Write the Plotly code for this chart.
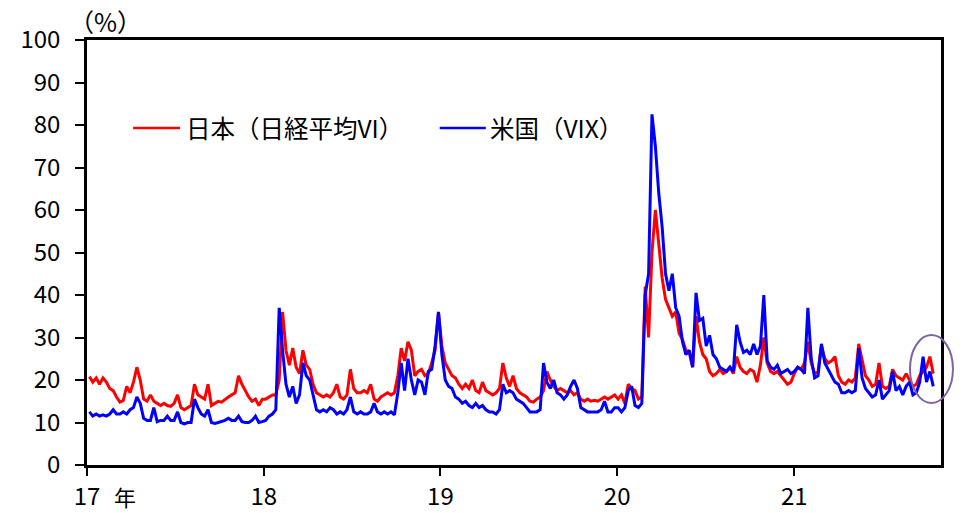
import pandas as pd
import plotly.graph_objects as go

# ---- data (weekly readings, %), first week ending 2017-01-06 ----
start_week = "2017-01-06"

nikkei_2017 = [20.8, 19.5, 20.5, 19.0, 20.5, 19.5, 18.0, 17.5, 16.0, 14.8,
               15.2, 18.5, 17.0, 19.5, 23.0, 20.0, 15.5, 15.0, 16.5, 15.0,
               14.5, 14.0, 14.5, 14.0, 13.8, 14.5, 16.5, 13.5, 13.0, 13.5,
               14.0, 19.0, 16.5, 16.0, 15.5, 19.0, 14.0, 14.5, 15.0, 14.8,
               15.5, 16.0, 16.5, 17.0, 21.0, 19.0, 17.5, 16.0, 15.0, 15.5,
               14.0, 15.5]
nikkei_2018 = [15.5, 16.0, 16.5, 16.5, 20.0, 36.0, 27.0, 23.5, 27.5, 23.0,
               21.5, 27.0, 23.5, 22.5, 19.0, 17.0, 16.5, 16.0, 16.5, 16.0,
               17.0, 19.0, 16.0, 15.5, 16.5, 22.5, 18.0, 17.0, 17.0, 17.5,
               17.0, 19.0, 15.5, 15.0, 16.0, 16.5, 17.0, 16.5, 17.0, 21.0,
               27.5, 24.5, 29.0, 27.0, 21.0, 22.0, 22.5, 21.0, 21.5, 24.0,
               27.0, 36.0]
nikkei_2019 = [28.0, 24.0, 22.5, 21.0, 20.5, 19.0, 18.0, 19.0, 18.0, 20.0,
               17.5, 17.0, 19.5, 17.5, 17.0, 16.5, 17.0, 18.0, 24.0, 20.5,
               18.5, 21.0, 18.0, 17.0, 16.5, 16.0, 15.0, 14.8, 15.5, 16.0,
               17.5, 22.0, 20.0, 18.5, 17.5, 18.0, 17.5, 17.0, 17.5, 16.5,
               17.0, 15.5, 15.0, 15.5, 15.0, 15.2, 15.0, 15.5, 16.0, 15.5,
               16.0, 16.5]
nikkei_2020 = [15.5, 16.5, 14.5, 19.0, 18.0, 17.5, 15.5, 16.0, 42.0, 30.0,
               50.0, 60.0, 52.0, 44.0, 39.0, 37.0, 35.0, 36.0, 31.0, 29.5,
               27.0, 26.5, 23.0, 35.0, 29.0, 26.0, 25.0, 22.0, 21.0, 21.5,
               22.5, 21.5, 22.0, 23.0, 21.5, 25.5, 23.0, 22.0, 21.5, 22.5,
               22.0, 19.5, 23.5, 30.0, 24.0, 22.0, 21.5, 22.0, 21.0, 20.0,
               19.0, 19.5]
nikkei_2021 = [21.5, 23.0, 22.5, 24.0, 29.0, 24.0, 21.5, 22.0, 28.0, 25.0,
               24.0, 24.5, 25.5, 21.0, 19.5, 19.0, 20.0, 19.5, 20.5, 28.5,
               24.5, 21.0, 20.0, 18.5, 19.0, 24.0, 18.5, 18.0, 18.5, 22.5,
               21.0, 20.5, 20.0, 21.5, 20.0, 18.5, 19.0, 21.0, 22.0, 23.0,
               25.5, 21.5]

vix_2017 = [12.5, 11.5, 12.0, 11.5, 11.8, 11.5, 12.0, 13.0, 12.0, 12.0,
            12.5, 12.0, 13.0, 13.5, 16.0, 14.5, 11.0, 10.5, 10.5, 13.5,
            10.2, 10.5, 10.5, 11.5, 10.5, 10.5, 12.5, 10.0, 9.7, 10.0,
            10.0, 15.5, 13.5, 12.0, 11.5, 13.0, 10.0, 9.8, 10.0, 10.2,
            10.5, 11.0, 10.5, 10.5, 11.5, 10.2, 10.0, 10.0, 10.5, 11.5,
            10.0, 10.2]
vix_2018 = [10.5, 11.5, 12.0, 13.0, 37.0, 27.0, 19.0, 16.0, 18.5, 14.5,
            16.5, 24.0, 21.0, 20.0, 16.5, 13.0, 12.5, 13.0, 12.5, 13.5,
            13.0, 12.0, 12.5, 12.0, 13.0, 16.0, 12.5, 12.0, 12.5, 12.0,
            12.0, 12.5, 14.5, 12.5, 12.0, 12.5, 12.0, 12.5, 11.8, 17.0,
            24.0, 17.5, 25.0, 20.0, 16.5, 20.0, 19.5, 16.5, 22.0, 22.5,
            28.0, 36.0]
vix_2019 = [26.0, 20.0, 18.5, 18.0, 16.0, 15.5, 14.5, 15.0, 14.0, 13.5,
            14.5, 13.5, 14.0, 13.0, 12.5, 12.5, 12.0, 13.0, 19.0, 17.0,
            17.5, 17.0, 15.5, 15.0, 14.5, 13.5, 12.5, 12.5, 12.5, 13.0,
            24.0, 19.5, 18.0, 20.0, 17.0, 16.5, 15.5, 16.5, 18.5, 20.0,
            18.0, 13.5, 13.0, 12.5, 12.5, 12.5, 12.5, 13.0, 15.0, 12.5,
            12.5, 13.5]
vix_2020 = [13.5, 12.5, 13.5, 17.5, 18.5, 14.0, 13.5, 14.5, 40.0, 45.0,
            82.5, 75.0, 64.0, 56.0, 45.0, 41.0, 45.0, 37.0, 35.0, 29.0,
            26.0, 27.0, 23.0, 40.5, 34.0, 34.5, 28.0, 30.5, 26.0, 25.0,
            23.0, 22.5, 22.0, 23.0, 22.0, 33.0, 29.0, 26.5, 27.0, 26.0,
            28.5, 26.0, 28.0, 40.0, 24.5, 23.0, 22.5, 23.5, 21.5, 22.0,
            22.5, 21.5]
vix_2021 = [22.0, 23.0, 22.5, 21.5, 37.0, 25.0, 20.5, 21.0, 28.5, 24.0,
            22.5, 21.0, 19.5, 19.0, 17.0, 17.0, 17.5, 17.0, 17.5, 27.5,
            20.5, 18.0, 17.0, 16.0, 16.5, 20.0, 15.5, 16.5, 17.5, 22.0,
            17.5, 18.5, 16.5, 18.5, 19.5, 16.5, 17.0, 19.5, 25.5, 19.5,
            22.0, 18.5]

year_ticks = ["2017-01-01", "2018-01-01", "2019-01-01", "2020-01-01", "2021-01-01"]
year_labels = ["17", "18", "19", "20", "21"]
series_names = ["日本（日経平均VI）", "米国（VIX）"]

nikkei_vi = nikkei_2017 + nikkei_2018 + nikkei_2019 + nikkei_2020 + nikkei_2021
vix = vix_2017 + vix_2018 + vix_2019 + vix_2020 + vix_2021
weeks = pd.date_range(start_week, periods=len(vix), freq="7D")

RED = "#FF0000"
BLUE = "#0000FF"
NUM_FONT = "Noto Sans CJK JP, sans-serif"
JP_FONT = "Noto Sans CJK JP, sans-serif"

fig = go.Figure()
fig.add_trace(go.Scatter(x=weeks, y=nikkei_vi, mode="lines", name=series_names[0],
                         line=dict(color=RED, width=3), showlegend=False))
fig.add_trace(go.Scatter(x=weeks, y=vix, mode="lines", name=series_names[1],
                         line=dict(color=BLUE, width=3), showlegend=False))

shapes = [
    # legend samples
    dict(type="line", xref="paper", yref="paper", x0=0.054, x1=0.109, y0=0.793, y1=0.793,
         line=dict(color=RED, width=2.5)),
    dict(type="line", xref="paper", yref="paper", x0=0.413, x1=0.467, y0=0.793, y1=0.793,
         line=dict(color=BLUE, width=2.5)),
    # highlight ellipse
    dict(type="circle", xref="paper", yref="paper", x0=0.9637, x1=1.014, y0=0.146, y1=0.306,
         line=dict(color="#8064A2", width=2)),
]
annotations = [
    dict(text=series_names[0], xref="paper", yref="paper", x=0.114, y=0.793,
         xanchor="left", yanchor="middle", showarrow=False,
         font=dict(family=JP_FONT, size=24.5, color="black")),
    dict(text=series_names[1], xref="paper", yref="paper", x=0.470, y=0.793,
         xanchor="left", yanchor="middle", showarrow=False,
         font=dict(family=JP_FONT, size=24.5, color="black")),
    dict(text="（%）", xref="paper", yref="paper", x=0.022, y=1.045,
         xanchor="center", yanchor="middle", showarrow=False,
         font=dict(family=JP_FONT, size=25, color="black")),
    dict(text="年", xref="paper", yref="paper", x=0.0445, y=-0.072,
         xanchor="center", yanchor="middle", showarrow=False,
         font=dict(family=JP_FONT, size=22, color="black")),
]

fig.update_layout(
    width=966, height=513,
    margin=dict(l=87, r=25, t=40, b=48),
    paper_bgcolor="white", plot_bgcolor="white",
    shapes=shapes, annotations=annotations,
    showlegend=False,
)
fig.update_xaxes(
    type="date", range=["2017-01-01", "2021-10-31"],
    tickmode="array", tickvals=year_ticks, ticktext=year_labels,
    ticks="outside", ticklen=8, tickwidth=2, tickcolor="black",
    showline=True, linecolor="black", linewidth=2.5, mirror=True,
    showgrid=False, zeroline=False, automargin=False,
    tickfont=dict(family=NUM_FONT, size=24, color="black"),
)
fig.update_yaxes(
    range=[0, 100], dtick=10, tick0=0,
    ticks="outside", ticklen=9, tickwidth=2, tickcolor="black",
    showline=True, linecolor="black", linewidth=2.5, mirror=True,
    showgrid=False, zeroline=False, automargin=False,
    tickfont=dict(family=NUM_FONT, size=24, color="black"),
    ticklabelstandoff=10,
)

fig.write_html("out.html", config={"displayModeBar": False},
               post_script="document.body.style.margin='0px';")
